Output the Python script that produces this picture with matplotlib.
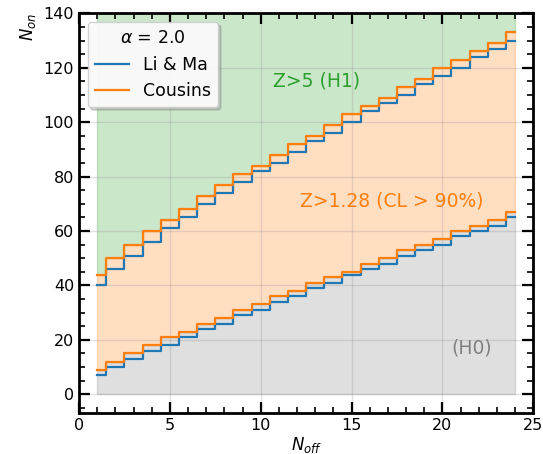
import numpy as np
import matplotlib
matplotlib.use("Agg")
import matplotlib.pyplot as plt
from matplotlib.ticker import MultipleLocator

n_off = list(range(1, 25))
upper_lima = [40, 46, 51, 56, 61, 65, 70, 74, 78, 82, 85, 89, 93, 96, 100, 104, 107, 110, 114, 117, 120, 124, 127, 130]
upper_cousins = [44, 50, 55, 60, 64, 68, 73, 77, 81, 84, 88, 92, 95, 99, 103, 106, 109, 113, 116, 120, 123, 126, 129, 133]
lower_lima = [7, 10, 13, 16, 18, 21, 24, 26, 29, 31, 34, 36, 39, 41, 44, 46, 48, 51, 53, 55, 58, 60, 62, 65]
lower_cousins = [9, 12, 15, 18, 21, 23, 26, 28, 31, 33, 36, 38, 41, 43, 45, 48, 50, 53, 55, 57, 60, 62, 64, 67]
alpha_label = r"$\alpha$ = 2.0"
labels = ["Li & Ma", "Cousins"]
region_labels = ["Z>5 (H1)", "Z>1.28 (CL > 90%)", "(H0)"]
y_top = 140

fig = plt.figure(figsize=(5.43, 4.54), dpi=100)
ax = fig.add_axes([0.1455, 0.0896, 0.8365, 0.881])

x = np.array(n_off)
ax.fill_between(x, upper_cousins, y_top, step='mid', color='C2', alpha=0.25, lw=1)
ax.fill_between(x, lower_cousins, upper_cousins, step='mid', color='C1', alpha=0.25, lw=1)
ax.fill_between(x, 0, lower_cousins, step='mid', color='gray', alpha=0.25, lw=1)

l1, = ax.step(x, upper_lima, where='mid', color='C0', lw=1.6, label=labels[0])
ax.step(x, lower_lima, where='mid', color='C0', lw=1.6)
l2, = ax.step(x, upper_cousins, where='mid', color='C1', lw=1.6, label=labels[1])
ax.step(x, lower_cousins, where='mid', color='C1', lw=1.6)

ax.text(13.05, 115.3, region_labels[0], color='C2', fontsize=13.5, ha='center', va='center')
ax.text(17.2, 70.9, region_labels[1], color='C1', fontsize=13.5, ha='center', va='center')
ax.text(21.6, 17, region_labels[2], color='gray', fontsize=13.5, ha='center', va='center')

ax.set_xlim(0, 25)
ax.set_ylim(-7, 140)
ax.xaxis.set_major_locator(MultipleLocator(5))
ax.xaxis.set_minor_locator(MultipleLocator(1))
ax.yaxis.set_major_locator(MultipleLocator(20))
ax.yaxis.set_minor_locator(MultipleLocator(5))
ax.tick_params(which='both', direction='in', top=True, right=True, labelsize=11.5)
ax.tick_params(which='major', length=8, width=1.6)
ax.tick_params(which='minor', length=4, width=1.2)
for s in ax.spines.values():
    s.set_linewidth(2)
ax.grid(True, which='major', color='0.6', alpha=0.3, lw=1)

ax.set_xlabel(r"$N_{off}$", fontsize=12, labelpad=1)
ax.set_ylabel(r"$N_{on}$", fontsize=12, loc='top')

ax.legend(handles=[l1, l2], title=alpha_label, loc='upper left', fontsize=12.5,
          title_fontsize=12.5, shadow={'color': '0.55', 'alpha': 0.4}, framealpha=0.9)

fig.savefig("out.png", dpi=100)
